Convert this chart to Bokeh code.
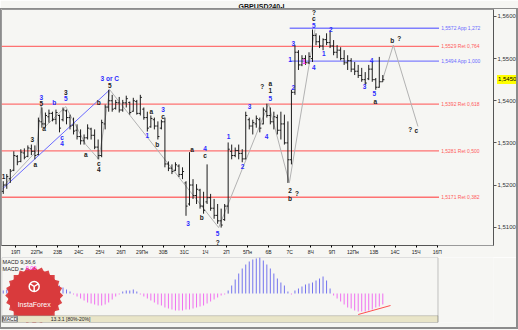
from bokeh.plotting import figure
from bokeh.layouts import column
from bokeh.models import (Range1d, FixedTicker, CustomJSTickFormatter, Label, Div,
                          BoxAnnotation, ColumnDataSource, InlineStyleSheet)
from bokeh.embed import file_html
from bokeh.resources import INLINE
from bokeh.core.properties import value

# ---------------- data ----------------
high = [1.5209, 1.5226, 1.5238, 1.5280, 1.5271, 1.5285, 1.5287, 1.5294, 1.5296, 1.5294,
        1.5360, 1.5384, 1.5372, 1.5379, 1.5374, 1.5379, 1.5367, 1.5384, 1.5379, 1.5367,
        1.5360, 1.5344, 1.5332, 1.5320, 1.5344, 1.5336, 1.5332, 1.5308, 1.5355, 1.5391,
        1.5426, 1.5414, 1.5402, 1.5409, 1.5402, 1.5412, 1.5398, 1.5407, 1.5402, 1.5414,
        1.5384, 1.5374, 1.5365, 1.5360, 1.5351, 1.5355, 1.5360, 1.5256, 1.5249, 1.5254,
        1.5249, 1.5242, 1.5209, 1.5278, 1.5214, 1.5202, 1.5191, 1.5184, 1.5249, 1.5179,
        1.5167, 1.5155, 1.5144, 1.5155, 1.5301, 1.5296, 1.5289, 1.5296, 1.5285, 1.5374,
        1.5360, 1.5355, 1.5365, 1.5360, 1.5384, 1.5393, 1.5384, 1.5374, 1.5367, 1.5374,
        1.5367, 1.5351, 1.5426, 1.5532, 1.5520, 1.5508, 1.5508, 1.5515, 1.5569, 1.5560,
        1.5555, 1.5548, 1.5560, 1.5567, 1.5544, 1.5532, 1.5527, 1.5520, 1.5508, 1.5501,
        1.5492, 1.5485, 1.5478, 1.5468, 1.5485, 1.5492, 1.5454, 1.5504, 1.5461]
low = [1.5179, 1.5191, 1.5205, 1.5233, 1.5247, 1.5254, 1.5261, 1.5266, 1.5271, 1.5261,
       1.5271, 1.5336, 1.5336, 1.5348, 1.5351, 1.5344, 1.5325, 1.5351, 1.5344, 1.5332,
       1.5320, 1.5308, 1.5296, 1.5296, 1.5308, 1.5308, 1.5285, 1.5261, 1.5266, 1.5332,
       1.5374, 1.5374, 1.5379, 1.5372, 1.5374, 1.5384, 1.5367, 1.5374, 1.5367, 1.5365,
       1.5355, 1.5327, 1.5336, 1.5332, 1.5308, 1.5332, 1.5242, 1.5233, 1.5226, 1.5233,
       1.5219, 1.5214, 1.5127, 1.5151, 1.5167, 1.5155, 1.5144, 1.5132, 1.5155, 1.5139,
       1.5120, 1.5108, 1.5099, 1.5115, 1.5132, 1.5261, 1.5266, 1.5261, 1.5254, 1.5261,
       1.5332, 1.5320, 1.5336, 1.5325, 1.5344, 1.5360, 1.5344, 1.5332, 1.5320, 1.5308,
       1.5296, 1.5205, 1.5249, 1.5414, 1.5473, 1.5482, 1.5485, 1.5487, 1.5492, 1.5532,
       1.5525, 1.5520, 1.5532, 1.5525, 1.5508, 1.5501, 1.5496, 1.5485, 1.5473, 1.5468,
       1.5461, 1.5454, 1.5445, 1.5438, 1.5449, 1.5445, 1.5426, 1.5431, 1.5445]
open_ = [1.5185, 1.5200, 1.5215, 1.5235, 1.5268, 1.5256, 1.5276, 1.5268, 1.5286, 1.5280,
         1.5272, 1.5350, 1.5345, 1.5362, 1.5370, 1.5356, 1.5365, 1.5355, 1.5376, 1.5360,
         1.5342, 1.5330, 1.5315, 1.5305, 1.5312, 1.5333, 1.5318, 1.5290, 1.5270, 1.5345,
         1.5385, 1.5400, 1.5382, 1.5395, 1.5378, 1.5395, 1.5396, 1.5375, 1.5398, 1.5370,
         1.5380, 1.5360, 1.5338, 1.5355, 1.5340, 1.5335, 1.5350, 1.5250, 1.5240, 1.5235,
         1.5245, 1.5225, 1.5205, 1.5155, 1.5200, 1.5175, 1.5188, 1.5150, 1.5160, 1.5170,
         1.5145, 1.5128, 1.5115, 1.5118, 1.5150, 1.5280, 1.5270, 1.5282, 1.5275, 1.5262,
         1.5355, 1.5340, 1.5345, 1.5355, 1.5345, 1.5375, 1.5365, 1.5350, 1.5360, 1.5330,
         1.5345, 1.5300, 1.5260, 1.5420, 1.5515, 1.5485, 1.5500, 1.5490, 1.5500, 1.5555,
         1.5540, 1.5530, 1.5545, 1.5538, 1.5530, 1.5515, 1.5520, 1.5500, 1.5490, 1.5495,
         1.5475, 1.5470, 1.5460, 1.5450, 1.5452, 1.5475, 1.5450, 1.5432, 1.5445]
close = [1.5200, 1.5220, 1.5233, 1.5270, 1.5255, 1.5278, 1.5266, 1.5288, 1.5280, 1.5270,
         1.5352, 1.5345, 1.5365, 1.5370, 1.5355, 1.5372, 1.5335, 1.5378, 1.5360, 1.5340,
         1.5328, 1.5315, 1.5305, 1.5312, 1.5335, 1.5318, 1.5290, 1.5270, 1.5348, 1.5385,
         1.5400, 1.5380, 1.5396, 1.5378, 1.5395, 1.5405, 1.5372, 1.5400, 1.5370, 1.5408,
         1.5360, 1.5335, 1.5358, 1.5340, 1.5315, 1.5350, 1.5250, 1.5240, 1.5232, 1.5248,
         1.5225, 1.5232, 1.5150, 1.5200, 1.5175, 1.5190, 1.5150, 1.5140, 1.5170, 1.5145,
         1.5128, 1.5115, 1.5105, 1.5150, 1.5285, 1.5270, 1.5282, 1.5275, 1.5262, 1.5365,
         1.5340, 1.5348, 1.5358, 1.5335, 1.5378, 1.5365, 1.5350, 1.5362, 1.5330, 1.5345,
         1.5300, 1.5260, 1.5420, 1.5515, 1.5485, 1.5500, 1.5490, 1.5505, 1.5555, 1.5540,
         1.5530, 1.5545, 1.5538, 1.5530, 1.5515, 1.5520, 1.5500, 1.5490, 1.5495, 1.5475,
         1.5470, 1.5460, 1.5450, 1.5442, 1.5475, 1.5450, 1.5432, 1.5445, 1.5450]

macd_hist = [0.0003, 0.0004, 0.0004, 0.0005, 0.0006, 0.0007, 0.0008, 0.0009, 0.0010, 0.0010,
             0.0012, 0.0013, 0.0013, 0.0012, 0.0011, 0.0010, 0.0008, 0.0006, 0.0004, 0.0002,
             -0.0001, -0.0003, -0.0005, -0.0007, -0.0009, -0.0010, -0.0011, -0.0012, -0.0012, -0.0011,
             -0.0009, -0.0006, -0.0003, -0.0001, 0.0002, 0.0003, 0.0003, 0.0004, 0.0002, -0.0001,
             -0.0003, -0.0005, -0.0007, -0.0009, -0.0011, -0.0012, -0.0014, -0.0015, -0.0016, -0.0017,
             -0.0017, -0.0017, -0.0016, -0.0016, -0.0015, -0.0014, -0.0013, -0.0012, -0.0010, -0.0008,
             -0.0006, -0.0004, -0.0002, -0.0001, 0.0003, 0.0008, 0.0014, 0.0020, 0.0025, 0.0029,
             0.0032, 0.0034, 0.0035, 0.0036, 0.0033, 0.0029, 0.0025, 0.0020, 0.0015, 0.0011,
             0.0008, 0.0002, -0.0001, 0.0003, 0.0005, 0.0007, 0.0009, 0.0010, 0.0011, 0.0013,
             0.0015, 0.0017, 0.0013, 0.0005, -0.0002, -0.0005, -0.0008, -0.0011, -0.0014, -0.0015,
             -0.0017, -0.0018, -0.0018, -0.0018, -0.0017, -0.0016, -0.0014, -0.0013, -0.0011]

day_labels = ["19П", "22Пн", "23В", "24С", "25Ч", "26П", "29Пн", "30В", "31С", "1Ч", "2П",
              "5Пн", "6В", "7С", "8Ч", "9П", "12Пн", "13В", "14С", "15Ч", "16П"]
price_ticks = [1.51, 1.52, 1.53, 1.54, 1.55, 1.56]
last_price_text = "1,5450"

levels = [1.5572, 1.5529, 1.5494, 1.5392, 1.5281, 1.5171]
level_texts = ["1,5572 App 1,272", "1,5529 Ret 0,764", "1,5494 App 1,000",
               "1,5392 Ret 0,618", "1,5281 Ret 0,500", "1,5171 Ret 0,382"]
level_colors = ["#6a6aff", "#ff5a5a", "#6a6aff", "#ff5a5a", "#ff5a5a", "#ff5a5a"]
level_start = [81.5, -0.5, 81.5, -0.5, -0.5, -0.5]
level_end = 124.0

wave_x = [0.1, 8.25, 9.1, 10.8, 10.8, 11.6, 14.5, 17.8, 17.8, 16.7, 16.7, 23.5, 27.2, 27.2, 27.2,
          30.3, 30.3, 42.1, 45.5, 45.5, 41.0, 43.8, 53.7, 52.6, 57.4, 57.4, 56.5, 61.0, 61.0,
          64.1, 68.1, 70.1, 73.7, 76.0, 76.0, 76.0, 74.9, 81.6, 81.6, 83.6, 82.5, 81.6, 82.5,
          85.6, 88.4, 88.4, 88.4, 88.4, 91.2, 93.2, 102.8, 104.8, 105.6, 105.9, 110.7, 112.7,
          115.8, 117.5]
wave_y = [1.5221, 1.5308, 1.5249, 1.5407, 1.5393, 1.5334, 1.5395, 1.5419, 1.5405, 1.5313, 1.5299,
          1.5273, 1.5395, 1.5252, 1.5238, 1.5452, 1.5435, 1.5374, 1.5379, 1.5362, 1.5318, 1.5296,
          1.5285, 1.5108, 1.5287, 1.5271, 1.5122, 1.5085, 1.5064, 1.5315, 1.5245, 1.5386, 1.5433,
          1.5442, 1.5424, 1.5405, 1.5315, 1.5188, 1.5169, 1.5179, 1.5431, 1.5499, 1.5536, 1.5492,
          1.5478, 1.5579, 1.5595, 1.5609, 1.5513, 1.5569, 1.5433, 1.5496, 1.5416, 1.5398, 1.5544,
          1.5548, 1.5332, 1.5329]
wave_text = ["1", "3", "a", "3", "5", "a", "b", "3", "5", "c", "4", "a", "b", "c", "4",
             "3 or C", "5", "a", "3", "c", "1", "b", "a", "3", "4", "c", "b", "5", "?",
             "1", "2", "3", "?", "a", "1", "5", "4", "2", "b", "?", "2", "1", "3",
             "1", "4", "5", "c", "?", "1", "2", "3", "4", "5", "a", "b", "?", "?", "c"]
B, K, M = "#2b2bff", "#1a1a1a", "#ff33ff"
wave_color = [K, K, K, B, K, K, B, K, B, B, B, K, K, K, K,
              B, K, K, B, K, B, K, K, B, B, K, K, B, K,
              B, B, B, K, K, K, B, B, K, K, K, B, B, B,
              M, B, B, K, K, B, B, B, B, B, K, K, K, K, K]

wave_line_x = [-0.2, 9.4, 10.8, 11.6, 17.8, 23.5, 27.2, 30.3, 61.3, 75.5, 81.4, 88.7]
wave_line_y = [1.5195, 1.5280, 1.5388, 1.5336, 1.5386, 1.5296, 1.5261, 1.5426, 1.5099, 1.5393,
               1.5205, 1.5569]
proj_x = [107.9, 111.0, 118.0]
proj_y = [1.5449, 1.5532, 1.5339]
trend_x = [-0.2, 30.3]
trend_y = [1.5191, 1.5426]
div_x = [101.0, 110.2]
div_y = [-0.0021, -0.0012]

# ---------------- main chart ----------------
BG = "#f6f6f3"
FONT = value("Liberation Sans")
idx = list(range(len(high)))
X_END = 139.5       # right edge of the price frame (bar-index units)
SUB_END = 123.7     # right edge of the time axis / MACD box

p = figure(width=518, height=257, x_range=Range1d(-0.5, X_END),
           y_range=Range1d(1.50565, 1.56165), output_backend="svg",
           toolbar_location=None, y_axis_location="right",
           min_border_left=1, min_border_right=21, min_border_top=9, min_border_bottom=10,
           background_fill_color=BG, border_fill_color=BG, outline_line_color="#9a9a9a")
p.grid.visible = False
p.title.text = "GBPUSD240-I"
p.title.align = "left"
p.title.offset = 237
p.title.text_font_size = "7px"
p.title.text_font = "Liberation Sans"
p.title.text_font_style = "bold"
p.title.text_color = "#111111"
p.title.standoff = 0

ya = p.yaxis[0]
ya.ticker = FixedTicker(ticks=price_ticks)
ya.formatter = CustomJSTickFormatter(code="return tick.toFixed(4).replace('.', ',');")
ya.major_label_text_font_size = "6px"
ya.major_label_text_font = "Liberation Sans"
ya.major_label_text_color = "#333333"
ya.major_tick_in = 0
ya.major_tick_out = 3
ya.minor_tick_line_color = None
ya.major_label_standoff = 1
ya.axis_line_color = "#555555"
ya.major_tick_line_color = "#555555"

xa = p.xaxis[0]
xa.ticker = FixedTicker(ticks=[3.5 + 6 * d for d in range(len(day_labels))])
xa.formatter = CustomJSTickFormatter(args=dict(labels=day_labels),
                                     code="return labels[Math.round((tick - 3.5) / 6)] || '';")
xa.major_label_text_font_size = "5px"
xa.major_label_text_font = "Liberation Sans"
xa.major_label_text_color = "#222222"
xa.major_tick_in = 0
xa.major_tick_out = 2
xa.minor_tick_line_color = None
xa.major_label_standoff = 1
xa.axis_line_color = "#555555"
xa.bounds = (-0.5, SUB_END)

# level lines
lsrc = ColumnDataSource(dict(x0=level_start, x1=[level_end] * len(levels), y=levels,
                             t=level_texts, c=level_colors, tx=[level_end + 0.6] * len(levels)))
p.segment(x0="x0", y0="y", x1="x1", y1="y", color="c", line_width=1.4, line_alpha=0.85,
          source=lsrc)
p.text(x="tx", y="y", text="t", text_color="c", text_font_size="5px", text_font=FONT,
       text_baseline="middle", source=lsrc)

# wave lines
p.line(wave_line_x, wave_line_y, color="#b2b2b2", line_width=1)
p.line(proj_x, proj_y, color="#b2b2b2", line_width=1)
p.line(trend_x, trend_y, color="#6a6aff", line_width=1)

# OHLC bars
BAR = "#1c1c1c"
p.segment(x0=idx, y0=low, x1=idx, y1=high, color=BAR, line_width=1)
p.segment(x0=[i - 0.45 for i in idx], y0=open_, x1=idx, y1=open_, color=BAR, line_width=1)
p.segment(x0=idx, y0=close, x1=[i + 0.45 for i in idx], y1=close, color=BAR, line_width=1)

# wave labels
wsrc = ColumnDataSource(dict(x=wave_x, y=wave_y, t=wave_text, c=wave_color))
p.text(x="x", y="y", text="t", text_color="c", text_font_size="6.5px", text_font=FONT,
       text_font_style="bold", text_align="center", text_baseline="middle", source=wsrc)

# ---------------- MACD panel ----------------
m = figure(width=518, height=73, x_range=Range1d(-0.5, X_END),
           y_range=Range1d(-0.0029, 0.0036), output_backend="svg",
           toolbar_location=None, x_axis_location=None, y_axis_location=None,
           min_border_left=1, min_border_right=21, min_border_top=0, min_border_bottom=8,
           background_fill_color=BG, border_fill_color=BG, outline_line_color=None)
m.grid.visible = False

hist_colors = ["#7474ee" if v >= 0 else "#f070f0" for v in macd_hist]
m.segment(x0=idx, y0=[0] * len(idx), x1=idx, y1=macd_hist, color=hist_colors, line_width=1)
m.line(div_x, div_y, color="#ff5050", line_width=1)

m.add_layout(BoxAnnotation(left=-0.5, right=SUB_END, bottom=-0.0029, top=-0.00222,
                           fill_color="#e9e5c8", fill_alpha=1, line_color="#666666",
                           line_width=1))
m.add_layout(BoxAnnotation(left=-0.45, right=SUB_END, fill_alpha=0, line_color="#444444",
                           line_width=1))
m.add_layout(Label(x=-0.2, y=-0.00256, text="MACD", text_font_size="5px",
                   text_font="Liberation Sans", text_baseline="middle", text_color="#222222",
                   background_fill_color="#f4f4f4", border_line_color="#777777"))
m.add_layout(Label(x=13.5, y=-0.00256, text="13.3.1 [80%-20%]", text_font_size="5px",
                   text_font="Liberation Sans", text_baseline="middle", text_color="#222222"))

# InstaForex badge
m.scatter(x=[8.8] * 6, y=[-0.0002] * 6, marker="square", size=41,
          angle=[0, 15, 30, 45, 60, 75], angle_units="deg",
          fill_color="#d93a3c", line_color=None, fill_alpha=0.95)
m.scatter(x=[8.8], y=[-0.0002], marker="circle", size=52, fill_color="#d93a3c",
          line_color=None)
m.scatter(x=[8.8], y=[0.0007], marker="circle_y", size=10, fill_color=None,
          line_color="#ffffff", line_width=1.5)
m.text(x=[8.8], y=[-0.0011], text=["InstaForex"], text_color="#ffffff", text_font=FONT,
       text_font_size="7px", text_align="center", text_baseline="middle")

m.add_layout(Label(x=-0.2, y=0.0035, text="MACD 9,36,6", text_font_size="5.5px",
                   text_font="Liberation Sans", text_baseline="top", text_color="#222222"))
m.add_layout(Label(x=-0.2, y=0.0028, text="MACD =", text_font_size="5.5px",
                   text_font="Liberation Sans", text_baseline="top", text_color="#222222"))
m.add_layout(Label(x=6.4, y=0.0028, text="0,00", text_font_size="5.5px",
                   text_font="Liberation Sans", text_baseline="top", text_color="#ff33ff"))

# current-price box sitting on the price axis
price_box = Div(
    text=('<span style="font-size:6px;font-family:\'Liberation Sans\';line-height:9px;'
          'color:#000;white-space:nowrap">' + last_price_text + '</span>'),
    width=21, height=9,
    styles={"position": "absolute", "left": "497px", "top": "75px",
            "background-color": "#ffff00", "font-size": "6px",
            "font-family": "Liberation Sans", "line-height": "9px",
            "padding": "0px", "margin": "0px", "z-index": "60",
            "overflow": "hidden", "box-sizing": "border-box", "padding-left": "1px"})

frame_css = InlineStyleSheet(css=""":host { position: relative; }
:host::after { content: ""; position: absolute; left: 0px; top: 8px; width: 518px; height: 321px;
  box-sizing: border-box; border: 1px solid #8c8c8c; border-right-width: 2px;
  border-bottom-width: 2px; pointer-events: none; z-index: 100; }""")
layout = column(p, m, price_box, spacing=0, stylesheets=[frame_css])
html = file_html(layout, INLINE)
html = html.replace("<head>", "<head><style>html,body{margin:0;padding:0;overflow:hidden}</style>", 1)
open("out.html", "w").write(html)
